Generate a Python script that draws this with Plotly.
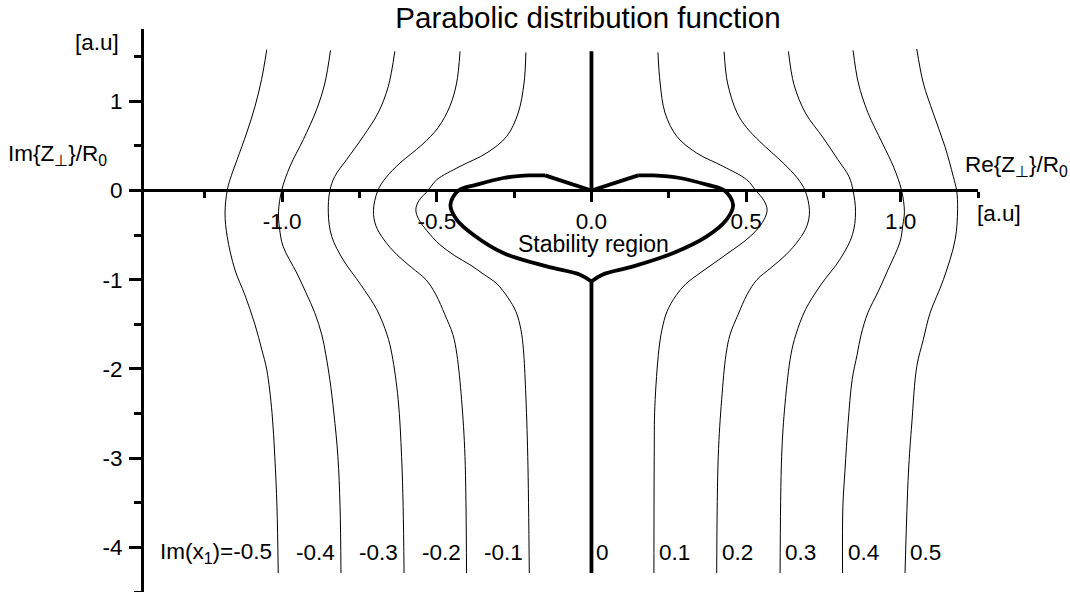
import plotly.graph_objects as go

# ---------------- data ----------------
im_values = [-0.5, -0.4, -0.3, -0.2, -0.1, 0.1, 0.2, 0.3, 0.4, 0.5]
im_labels = ["Im(x<sub>1</sub>)=-0.5", "-0.4", "-0.3", "-0.2", "-0.1",
             "0.1", "0.2", "0.3", "0.4", "0.5"]

re_m05 = [-1.050, -1.067, -1.088, -1.115, -1.146, -1.169, -1.178, -1.185, -1.178, -1.153,
          -1.121, -1.088, -1.066, -1.050, -1.033, -1.024, -1.017, -1.013]
im_m05 = [1.578, 1.242, 0.943, 0.645, 0.345, 0.121, -0.002, -0.252, -0.515, -0.888,
          -1.168, -1.504, -1.785, -2.009, -2.491, -2.984, -3.545, -4.288]

re_m04 = [-0.844, -0.862, -0.889, -0.932, -0.975, -1.002, -1.012, -1.009, -0.997, -0.953,
          -0.923, -0.895, -0.872, -0.859, -0.846, -0.833, -0.820, -0.813, -0.810]
im_m04 = [1.571, 1.205, 0.906, 0.569, 0.270, -0.002, -0.238, -0.418, -0.627, -0.925,
          -1.146, -1.370, -1.616, -1.841, -2.121, -2.494, -2.981, -3.541, -4.288]

re_m03 = [-0.636, -0.657, -0.690, -0.738, -0.792, -0.830, -0.846, -0.851, -0.840, -0.803,
          -0.746, -0.694, -0.661, -0.645, -0.625, -0.614, -0.609, -0.606]
im_m03 = [1.559, 1.167, 0.869, 0.607, 0.345, 0.158, -0.002, -0.252, -0.515, -0.776,
          -1.056, -1.336, -1.616, -1.841, -2.345, -2.981, -3.541, -4.288]

re_m02 = [-0.425, -0.436, -0.458, -0.496, -0.548, -0.619, -0.665, -0.691, -0.705, -0.697,
          -0.671, -0.629, -0.581, -0.535, -0.503, -0.474, -0.448, -0.435, -0.420, -0.409, -0.404]
im_m02 = [1.559, 1.205, 0.943, 0.704, 0.513, 0.308, 0.143, -0.002, -0.226, -0.395,
          -0.552, -0.720, -0.865, -1.000, -1.168, -1.392, -1.616, -1.841, -2.345, -2.981, -4.288]

re_m01 = [-0.212, -0.218, -0.237, -0.274, -0.339, -0.425, -0.500, -0.529, -0.558, -0.568,
          -0.558, -0.532, -0.490, -0.442, -0.393, -0.351, -0.306, -0.270, -0.244, -0.228,
          -0.220, -0.213, -0.206, -0.201]
im_m01 = [1.548, 1.205, 0.869, 0.607, 0.420, 0.270, 0.121, -0.002, -0.114, -0.215,
          -0.327, -0.451, -0.608, -0.731, -0.832, -0.933, -1.045, -1.202, -1.359, -1.561,
          -1.785, -2.233, -2.981, -4.288]

re_p01 = [0.215, 0.222, 0.238, 0.276, 0.340, 0.426, 0.502, 0.532, 0.558, 0.568,
          0.558, 0.532, 0.493, 0.448, 0.403, 0.351, 0.306, 0.273, 0.244, 0.228,
          0.218, 0.205, 0.203, 0.202]
im_p01 = [1.548, 1.205, 0.869, 0.607, 0.420, 0.270, 0.121, -0.002, -0.114, -0.215,
          -0.327, -0.451, -0.574, -0.686, -0.798, -0.925, -1.045, -1.179, -1.359, -1.561,
          -1.785, -2.420, -2.981, -4.288]

re_p02 = [0.429, 0.440, 0.471, 0.502, 0.545, 0.620, 0.665, 0.691, 0.705, 0.697,
          0.671, 0.629, 0.581, 0.535, 0.503, 0.474, 0.448, 0.435, 0.421, 0.410, 0.405]
im_p02 = [1.556, 1.205, 0.869, 0.704, 0.547, 0.308, 0.143, -0.002, -0.226, -0.395,
          -0.552, -0.720, -0.865, -1.000, -1.168, -1.392, -1.616, -1.841, -2.345, -2.981, -4.288]

re_p03 = [0.637, 0.655, 0.692, 0.749, 0.797, 0.833, 0.846, 0.854, 0.844, 0.805,
          0.742, 0.692, 0.661, 0.645, 0.626, 0.615, 0.610]
im_p03 = [1.559, 1.186, 0.869, 0.592, 0.345, 0.155, -0.002, -0.238, -0.496, -0.765,
          -1.056, -1.336, -1.616, -1.841, -2.390, -2.981, -4.288]

re_p04 = [0.846, 0.863, 0.894, 0.940, 0.978, 1.003, 1.012, 1.007, 0.998, 0.959,
          0.927, 0.894, 0.872, 0.859, 0.843, 0.830, 0.820, 0.813, 0.812]
im_p04 = [1.571, 1.205, 0.872, 0.536, 0.256, -0.002, -0.238, -0.384, -0.574, -0.888,
          -1.135, -1.370, -1.616, -1.841, -2.121, -2.603, -3.130, -3.545, -4.288]

re_p05 = [1.052, 1.073, 1.105, 1.143, 1.170, 1.181, 1.184, 1.176, 1.138, 1.095,
          1.073, 1.052, 1.036, 1.025, 1.014]
im_p05 = [1.586, 1.205, 0.869, 0.494, 0.158, -0.002, -0.215, -0.552, -1.000, -1.373,
          -1.673, -1.972, -2.607, -3.167, -4.288]

# Im(x1) = 0 : stability boundary (heart) and the Re=0 stem
stem_re = [0.0, 0.0, None, -0.150, 0.0, 0.151, None, 0.0, 0.0]
stem_im = [1.56, 0.0, None, 0.169, 0.0, 0.169, None, -1.02, -4.288]

heart_l_re = [-0.150, -0.199, -0.285, -0.371, -0.430, -0.456, -0.436, -0.382, -0.285, -0.145, -0.037, 0.0]
heart_l_im = [0.169, 0.169, 0.140, 0.065, 0.0, -0.16, -0.327, -0.496, -0.701, -0.851, -0.944, -1.02]
heart_r_re = [0.151, 0.200, 0.286, 0.373, 0.430, 0.458, 0.437, 0.373, 0.265, 0.135, 0.035, 0.0]
heart_r_im = [0.169, 0.169, 0.140, 0.065, 0.0, -0.16, -0.327, -0.515, -0.701, -0.851, -0.944, -1.02]

x_tickvals = [-1.0, -0.5, 0.0, 0.5, 1.0]
x_ticktext = ["-1.0", "-0.5", "0.0", "0.5", "1.0"]
y_tickvals = [1, 0, -1, -2, -3, -4]
y_ticktext = ["1", "0", "-1", "-2", "-3", "-4"]

x_range = [-1.447, 1.25]
y_range = [-4.50, 1.81]

# ---------------- figure ----------------
FONT = "Liberation Sans, Arial, Helvetica, sans-serif"
FS = 22.5
curves_re = [re_m05, re_m04, re_m03, re_m02, re_m01, re_p01, re_p02, re_p03, re_p04, re_p05]
curves_im = [im_m05, im_m04, im_m03, im_m02, im_m01, im_p01, im_p02, im_p03, im_p04, im_p05]

fig = go.Figure()
for v, xs, ys in zip(im_values, curves_re, curves_im):
    fig.add_trace(go.Scatter(x=xs, y=ys, mode="lines", name=f"Im(x1)={v}",
                             line=dict(color="black", width=1, shape="spline", smoothing=1.0),
                             showlegend=False, hoverinfo="skip"))

fig.add_trace(go.Scatter(x=heart_l_re + [None] + heart_r_re,
                         y=heart_l_im + [None] + heart_r_im,
                         mode="lines", line=dict(color="black", width=3.8, shape="spline", smoothing=1.0),
                         showlegend=False, hoverinfo="skip"))
fig.add_trace(go.Scatter(x=stem_re, y=stem_im, mode="lines",
                         line=dict(color="black", width=3.8),
                         showlegend=False, hoverinfo="skip"))

annotations = []
bottom_y = -4.06
for i, (v, lab) in enumerate(zip(im_values, im_labels)):
    xb = curves_re[i][-1]
    annotations.append(dict(x=xb, y=bottom_y, xref="x", yref="y", text=lab, showarrow=False,
                            xanchor="right" if v < 0 else "left", yanchor="middle",
                            xshift=-4 if v < 0 else 3,
                            font=dict(family=FONT, size=FS, color="black")))
annotations.append(dict(x=stem_re[-1], y=bottom_y, xref="x", yref="y", text="0", showarrow=False,
                        xanchor="left", yanchor="middle", xshift=3,
                        font=dict(family=FONT, size=FS, color="black")))
annotations.append(dict(x=0.007, y=-0.60, xref="x", yref="y", text="Stability region",
                        showarrow=False, xanchor="center", yanchor="middle",
                        font=dict(family=FONT, size=23, color="black")))

W, H = 1070, 592
ML, MR, MT, MB = 144, 92, 29, 0
pw, ph = W - ML - MR, H - MT - MB
def px(xp):
    return (xp - ML) / pw
def py(yp):
    return (H - MB - yp) / ph

annotations += [
    dict(x=px(97), y=py(43), xref="paper", yref="paper", text="[a.u]", showarrow=False,
         xanchor="center", yanchor="middle", font=dict(family=FONT, size=FS, color="black")),
    dict(x=px(6), y=py(155), xref="paper", yref="paper", text="Im{Z<sub>⊥</sub>}/R<sub>0</sub>",
         showarrow=False, xanchor="left", yanchor="middle", font=dict(family=FONT, size=FS, color="black")),
    dict(x=px(963), y=py(166), xref="paper", yref="paper", text="Re{Z<sub>⊥</sub>}/R<sub>0</sub>",
         showarrow=False, xanchor="left", yanchor="middle", font=dict(family=FONT, size=FS, color="black")),
    dict(x=px(975), y=py(213), xref="paper", yref="paper", text="[a.u]", showarrow=False,
         xanchor="left", yanchor="middle", font=dict(family=FONT, size=FS, color="black")),
]

fig.update_layout(
    width=W, height=H,
    margin=dict(l=ML, r=MR, t=MT, b=MB, pad=0),
    paper_bgcolor="white", plot_bgcolor="white",
    title=dict(text="Parabolic distribution function", x=588 / W, xref="container", xanchor="center",
               y=1 - 18 / H, yref="container", yanchor="middle",
               font=dict(family=FONT, size=29.5, color="black")),
    annotations=annotations,
    xaxis=dict(range=x_range, anchor="free",
               position=(0 - y_range[0]) / (y_range[1] - y_range[0]),
               showgrid=False, zeroline=False, showline=True, linecolor="black", linewidth=3,
               ticks="outside", ticklen=10, tickwidth=2.5, tickcolor="black",
               tickmode="array", tickvals=x_tickvals, ticktext=x_ticktext,
               tickfont=dict(family=FONT, size=FS, color="black"),
               minor=dict(tickmode="linear", tick0=0, dtick=0.25, ticks="outside",
                          ticklen=6, tickwidth=2.5, tickcolor="black", showgrid=False),
               automargin=False, fixedrange=True),
    yaxis=dict(range=y_range, anchor="x",
               showgrid=False, zeroline=False, showline=True, linecolor="black", linewidth=3,
               ticks="outside", ticklen=12, tickwidth=2.5, tickcolor="black",
               tickmode="array", tickvals=y_tickvals, ticktext=y_ticktext,
               tickfont=dict(family=FONT, size=FS, color="black"),
               ticklabelstandoff=2,
               minor=dict(tickmode="linear", tick0=0, dtick=0.5, ticks="outside",
                          ticklen=7, tickwidth=2.5, tickcolor="black", showgrid=False),
               automargin=False, fixedrange=True),
)

fig.write_html("out.html")
